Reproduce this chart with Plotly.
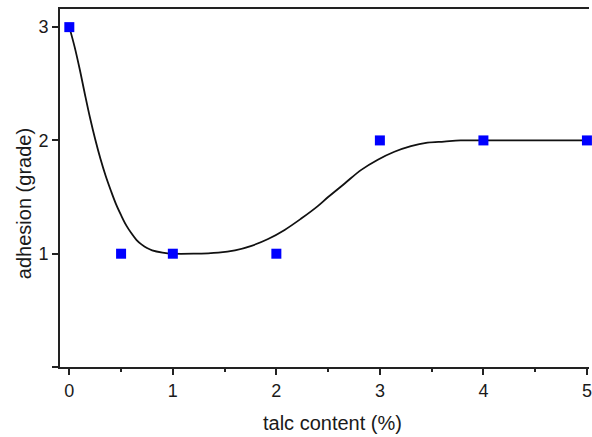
import plotly.graph_objects as go

# measured points
talc = [0, 0.5, 1, 2, 3, 4, 5]
adhesion = [3, 1, 1, 1, 2, 2, 2]

# fitted curve
curve_x = [0.0, 0.05, 0.1, 0.15, 0.2, 0.25, 0.3, 0.35, 0.4, 0.45, 0.5, 0.55, 0.6,
           0.65, 0.7, 0.75, 0.8, 0.9, 1.0, 1.2, 1.44, 1.6, 1.76, 1.92, 2.08, 2.24,
           2.4, 2.5, 2.66, 2.82, 2.98, 3.14, 3.3, 3.46, 3.62, 3.78, 4.0, 4.5, 5.0]
curve_y = [3.0, 2.83, 2.63, 2.41, 2.20, 2.01, 1.84, 1.69, 1.56, 1.44, 1.34, 1.25, 1.18,
           1.12, 1.08, 1.05, 1.03, 1.01, 1.0, 1.0, 1.01, 1.03, 1.07, 1.13, 1.21, 1.31,
           1.42, 1.50, 1.62, 1.74, 1.83, 1.90, 1.95, 1.98, 1.99, 2.0, 2.0, 2.0, 2.0]

x_ticks = [0, 1, 2, 3, 4, 5]
y_ticks = [0, 1, 2, 3]
y_ticklabels = ["", "1", "2", "3"]
x_title = "talc content (%)"
y_title = "adhesion (grade)"

tick_font = dict(family="Liberation Sans, Arial, sans-serif", size=18, color="#1a1a1a")
title_font = dict(family="Liberation Sans, Arial, sans-serif", size=20, color="#1a1a1a")

fig = go.Figure()
fig.add_trace(go.Scatter(x=curve_x, y=curve_y, mode="lines",
                         line=dict(color="#111", width=1.8, shape="spline", smoothing=1.0),
                         hoverinfo="skip", showlegend=False))
fig.add_trace(go.Scatter(x=talc, y=adhesion, mode="markers",
                         marker=dict(symbol="square", size=10, color="#0000FF",
                                     line=dict(width=0)),
                         cliponaxis=False, showlegend=False))

fig.update_layout(
    width=592, height=437,
    margin=dict(l=60, r=0, t=9, b=70),
    paper_bgcolor="white", plot_bgcolor="white",
    font=tick_font,
    annotations=[
        dict(text=x_title, xref="paper", yref="paper", x=0.515, y=-0.156,
             xanchor="center", yanchor="middle", showarrow=False, font=title_font),
        dict(text=y_title, xref="paper", yref="paper", x=-0.068, y=0.455,
             xanchor="center", yanchor="middle", showarrow=False, textangle=-90,
             font=title_font),
    ],
)
fig.update_xaxes(
    range=[-0.09, 5.02], tickvals=x_ticks, ticks="outside", ticklen=6, tickwidth=1.5,
    tickcolor="#222", showline=True, linecolor="#222", linewidth=1.8, mirror=True,
    showgrid=False, zeroline=False, tickfont=tick_font, ticklabeloverflow="allow",
    minor=dict(dtick=0.5, tick0=0, ticks="outside", ticklen=3, tickwidth=1.5, tickcolor="#222"),
)
fig.update_yaxes(
    range=[0, 3.16], tickvals=y_ticks, ticktext=y_ticklabels, ticks="outside", ticklen=6,
    tickwidth=1.5, tickcolor="#222", showline=True, linecolor="#222", linewidth=1.8,
    showgrid=False, zeroline=False, tickfont=tick_font,
)

fig.write_html("out.html")
